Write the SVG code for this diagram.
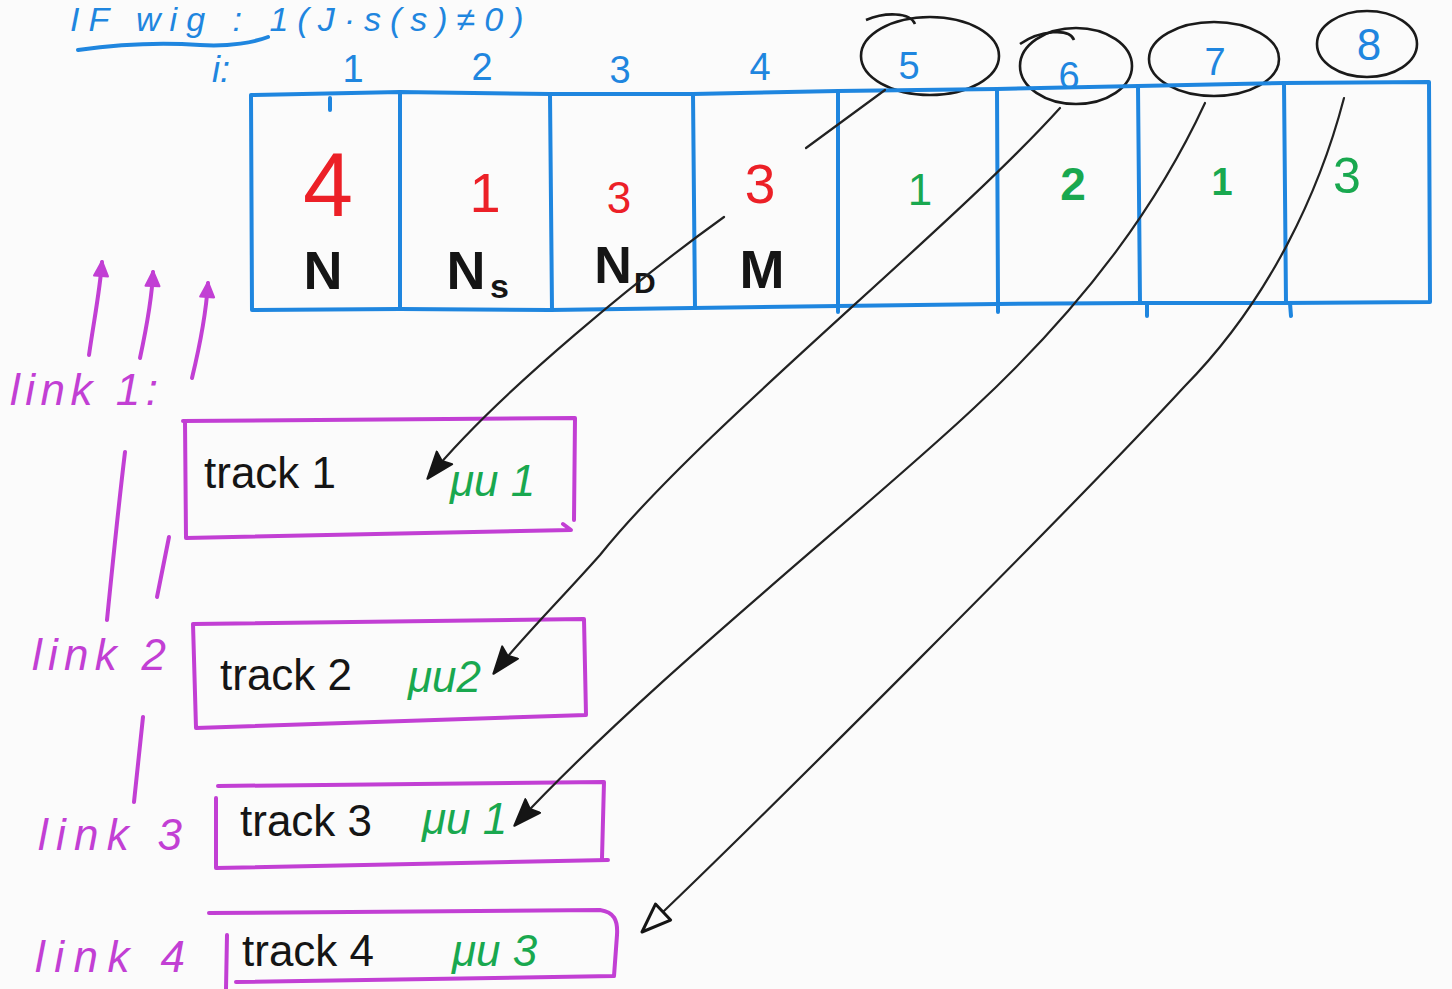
<svg xmlns="http://www.w3.org/2000/svg" width="1452" height="989" viewBox="0 0 1452 989">
<style>
  .bg{fill:#fbfbfb}
  .blue{stroke:#1f86df;stroke-width:4;fill:none;stroke-linecap:round;stroke-linejoin:round}
  .purple{stroke:#c23fd4;stroke-width:4;fill:none;stroke-linecap:round;stroke-linejoin:round}
  .ink{stroke:#222;stroke-width:2.2;fill:none;stroke-linecap:round}
  .circ{stroke:#1a1a1a;stroke-width:2.6;fill:none}
  text{font-family:"Liberation Sans","DejaVu Sans",sans-serif}
  .tb{fill:#1f86df}
  .tr{fill:#ec2027}
  .tk{fill:#151515;font-weight:bold}
  .tg{fill:#19a84f}
  .tp{fill:#c23fd4}
  .trk{fill:#151515;font-size:44px}
  .mu{fill:#19a84f;font-size:44px;font-style:italic}
  .lnk{fill:#c23fd4;font-size:44px;font-style:italic}
</style>
<defs>
  <marker id="ahFill" markerUnits="userSpaceOnUse" markerWidth="30" markerHeight="24" viewBox="0 0 30 24" refX="27" refY="12" orient="auto">
    <path d="M1,2 L28,12 L1,22 L5,12 z" fill="#151515" stroke="#151515" stroke-width="2" stroke-linejoin="round"/>
  </marker>
  <marker id="ahOpen" markerUnits="userSpaceOnUse" markerWidth="36" markerHeight="30" viewBox="0 0 36 30" refX="32" refY="15" orient="auto">
    <path d="M3,4 L32,15 L3,26 z" fill="#fbfbfb" stroke="#151515" stroke-width="3" stroke-linejoin="round"/>
  </marker>
  <marker id="ahPurple" markerUnits="userSpaceOnUse" markerWidth="20" markerHeight="20" viewBox="0 0 20 20" refX="16" refY="10" orient="auto">
    <path d="M2,3 L17,10 L2,17 z" fill="#c23fd4" stroke="#c23fd4" stroke-width="2" stroke-linejoin="round"/>
  </marker>
</defs>
<rect class="bg" x="0" y="0" width="1452" height="989"/>

<!-- heading at top -->
<g id="heading">
  <text class="tb" x="70" y="31" font-size="34" letter-spacing="9" font-style="italic">IF wig : 1(J·s(s)≠0)</text>
  <path class="blue" d="M78,50 C120,44 160,42 200,45 C230,47 255,42 268,37"/>
</g>

<!-- index row -->
<g id="index-labels">
  <text class="tb" x="212" y="82" font-size="36" font-style="italic">i:</text>
  <text class="tb" x="353" y="82" font-size="38" text-anchor="middle">1</text>
  <text class="tb" x="482" y="80" font-size="38" text-anchor="middle">2</text>
  <text class="tb" x="620" y="83" font-size="38" text-anchor="middle">3</text>
  <text class="tb" x="760" y="80" font-size="38" text-anchor="middle">4</text>
</g>
<g id="idx5"><ellipse class="circ" cx="930" cy="56" rx="69" ry="39"/><path class="circ" d="M866,20 C885,12 910,12 915,24"/><text class="tb" x="909" y="79" font-size="38" text-anchor="middle">5</text></g>
<g id="idx6"><ellipse class="circ" cx="1076" cy="66" rx="56" ry="38"/><path class="circ" d="M1020,44 C1040,30 1070,28 1074,40"/><text class="tb" x="1069" y="89" font-size="38" text-anchor="middle">6</text></g>
<g id="idx7"><ellipse class="circ" cx="1214" cy="59" rx="65" ry="37"/><text class="tb" x="1215" y="75" font-size="38" text-anchor="middle">7</text></g>
<g id="idx8"><ellipse class="circ" cx="1367" cy="44" rx="50" ry="33"/><text class="tb" x="1369" y="60" font-size="44" text-anchor="middle">8</text></g>

<!-- array table -->
<g id="table">
  <path class="blue" d="M251,95 L400,92 L550,94 L693,94 L838,91 L997,89 L1138,86 L1284,83 L1429,82 L1430,302 L1284,303 L1138,303 L997,304 L838,306 L693,308 L550,310 L400,309 L252,310 Z"/>
  <path class="blue" d="M400,92 L400,308 M550,94 L552,310 M693,94 L695,308 M838,91 L838,306 M997,89 L998,304 M1138,86 L1140,303 M1284,83 L1286,303"/>
  <path class="blue" stroke-width="2.5" d="M330,98 L330,110 M1147,303 L1147,316 M1290,303 L1291,316 M998,304 L998,312 M838,306 L838,312"/>
</g>
<g id="cell1"><text class="tr" x="328" y="216" font-size="90" text-anchor="middle">4</text><text class="tk" x="323" y="289" font-size="54" text-anchor="middle">N</text></g>
<g id="cell2"><text class="tr" x="485" y="212" font-size="56" text-anchor="middle">1</text><text class="tk" x="466" y="289" font-size="54" text-anchor="middle">N</text><text class="tk" x="490" y="298" font-size="34" font-weight="normal">s</text></g>
<g id="cell3"><text class="tr" x="619" y="213" font-size="44" text-anchor="middle">3</text><text class="tk" x="613" y="283" font-size="52" text-anchor="middle" font-weight="normal">N</text><text class="tk" x="634" y="293" font-size="30">D</text></g>
<g id="cell4"><text class="tr" x="760" y="203" font-size="55" text-anchor="middle">3</text><text class="tk" x="762" y="288" font-size="54" text-anchor="middle">M</text></g>
<g id="cell5"><text class="tg" x="920" y="205" font-size="44" text-anchor="middle">1</text></g>
<g id="cell6"><text class="tg" x="1073" y="200" font-size="46" text-anchor="middle" font-weight="bold">2</text></g>
<g id="cell7"><text class="tg" x="1222" y="195" font-size="38" text-anchor="middle" font-weight="bold">1</text></g>
<g id="cell8"><text class="tg" x="1347" y="193" font-size="50" text-anchor="middle">3</text></g>

<!-- link labels and purple strokes -->
<g id="link1-label">
  <text class="lnk" x="10" y="405" textLength="148" lengthAdjust="spacing">link 1:</text>
  <path class="purple" d="M89,355 C94,320 100,290 102,262" marker-end="url(#ahPurple)"/>
  <path class="purple" d="M140,358 C146,330 152,300 153,272" marker-end="url(#ahPurple)"/>
  <path class="purple" d="M192,378 C200,345 206,315 208,283" marker-end="url(#ahPurple)"/>
</g>
<g id="link-bars">
  <path class="purple" d="M125,452 C118,510 112,570 107,620"/>
  <path class="purple" d="M169,537 L157,597"/>
  <path class="purple" d="M143,717 L134,802"/>
</g>
<g id="link2-label"><text class="lnk" x="32" y="670" textLength="134" lengthAdjust="spacing">link 2</text></g>
<g id="link3-label"><text class="lnk" x="38" y="850" textLength="144" lengthAdjust="spacing">link 3</text></g>
<g id="link4-label"><text class="lnk" x="35" y="972" textLength="150" lengthAdjust="spacing">link 4</text></g>

<!-- track boxes -->
<g id="track1">
  <path class="purple" d="M183,421 L575,418 L574,520 M185,421 L186,538 L571,530 L563,524"/>
  <text class="trk" x="204" y="488">track 1</text>
  <text class="mu" x="450" y="496">μu 1</text>
</g>
<g id="track2">
  <path class="purple" d="M193,624 L584,619 L586,715 L196,728 Z"/>
  <text class="trk" x="220" y="690">track 2</text>
  <text class="mu" x="408" y="692">μu2</text>
</g>
<g id="track3">
  <path class="purple" d="M218,786 L604,782 L602,858 M216,798 L216,868 L608,860"/>
  <text class="trk" x="240" y="836">track 3</text>
  <text class="mu" x="422" y="834">μu 1</text>
</g>
<g id="track4">
  <path class="purple" d="M209,913 L600,910 C614,912 618,920 617,935 L614,976 L236,982 M227,935 L226,989"/>
  <text class="trk" x="242" y="966">track 4</text>
  <text class="mu" x="452" y="966">μu 3</text>
</g>

<!-- connectors -->
<g id="connectors">
  <path class="ink" d="M885,90 L806,148"/>
  <path class="ink" d="M724,217 C650,270 500,390 428,478" marker-end="url(#ahFill)"/>
  <path class="ink" d="M1060,108 C950,230 700,430 600,555 C560,600 520,640 494,673" marker-end="url(#ahFill)"/>
  <path class="ink" d="M1205,103 C1160,200 1090,300 974,408 C860,515 650,680 515,825" marker-end="url(#ahFill)"/>
  <path class="ink" d="M1344,98 C1320,190 1270,300 1184,387 C1080,500 760,820 642,932" marker-end="url(#ahOpen)"/>
</g>
</svg>
